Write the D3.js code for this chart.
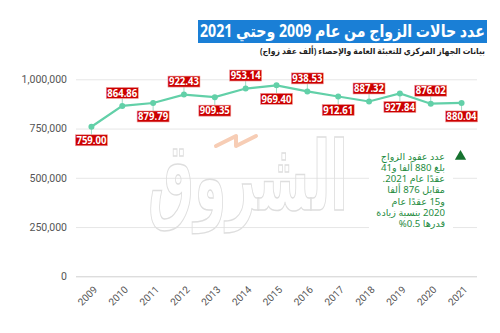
<!DOCTYPE html>
<html><head><meta charset="utf-8">
<script src="https://cdn.jsdelivr.net/npm/d3@7"></script>
<style>html,body{margin:0;padding:0;background:#fff;}svg{display:block;font-family:"Noto Sans","DejaVu Sans",sans-serif;}</style>
</head><body><svg id="c" width="500" height="333"></svg>
<script>
const years = ["2009","2010","2011","2012","2013","2014","2015","2016","2017","2018","2019","2020","2021"];
const marriages = [759000,864860,879790,922430,909350,953140,969400,938530,912610,887320,927840,876020,880040];
const labelText = ["759.00","864.86","879.79","922.43","909.35","953.14","969.40","938.53","912.61","887.32","927.84","876.02","880.04"];
const yTicks = [0,250000,500000,750000,1000000];
const title = "عدد حالات الزواج من عام 2009 وحتي 2021";
const subtitle = "بيانات الجهاز المركزي للتعبئة العامة والإحصاء (ألف عقد زواج)";
const noteLines = ["عدد عقود الزواج","بلغ 880 ألفا و41","عقدًا عام 2021.","مقابل 876 ألفا","و15 عقدًا عام","2020 بنسبة زيادة","قدرها 0.5%"];

const svg = d3.select("#c");
const x = d3.scalePoint().domain(years).range([76,477]).padding(0.5);
const y = d3.scaleLinear().domain([0,1000000]).range([276.3,79.3]);

// title (rtl: anchor start = right edge)
svg.append("rect").attr("x",198).attr("y",20).attr("width",289).attr("height",23).attr("fill","#1a7fd6");
svg.append("text").attr("x",485).attr("y",37).attr("text-anchor","start").attr("direction","rtl")
  .attr("fill","#fff").attr("font-weight","bold").attr("font-size",17)
  .attr("textLength",285).attr("lengthAdjust","spacingAndGlyphs").text(title);
svg.append("text").attr("x",485).attr("y",54).attr("text-anchor","start").attr("direction","rtl")
  .attr("fill","#222").attr("font-weight","bold").attr("font-size",8.5)
  .attr("textLength",225).attr("lengthAdjust","spacingAndGlyphs").text(subtitle);

// grid + y axis
const yAxis = d3.axisLeft(y).tickValues(yTicks).tickSize(-(477-76)).tickFormat(d3.format(","));
const ga = svg.append("g").attr("transform","translate(76,0)").call(yAxis);
ga.select(".domain").remove();
ga.selectAll(".tick line").attr("stroke",d=>d===0?"#cfcfcf":"#e6e6e6").attr("stroke-width",1);
ga.selectAll(".tick text").attr("x",-9).attr("fill","#555").attr("font-size",10.5).attr("font-family","Roboto, 'Noto Sans', sans-serif");

// watermark
const wm = svg.append("g");
wm.append("text").attr("x",248).attr("y",210).attr("text-anchor","middle").attr("direction","rtl")
  .attr("font-size",96).attr("font-weight","bold").attr("fill","none").attr("stroke","#dedede").attr("stroke-width",1.5)
  .attr("textLength",200).attr("lengthAdjust","spacingAndGlyphs").text("الشروق");
wm.append("path").attr("d","M216,146 L236,136 L236,146 L256,136").attr("fill","none").attr("stroke","#f7cdb5").attr("stroke-width",4).attr("stroke-linecap","round").attr("stroke-linejoin","round");

// x axis labels
const xa = svg.append("g").attr("transform","translate(0,276.3)").call(d3.axisBottom(x).tickSize(0).tickPadding(0));
xa.select(".domain").remove();
xa.selectAll(".tick text").attr("text-anchor","end").attr("fill","#555").attr("font-size",10)
  .attr("font-family","Roboto, 'Noto Sans', sans-serif")
  .attr("transform","translate(6,14) rotate(-45)").attr("dy","0");

// annotation
const ann = svg.append("g");
ann.append("rect").attr("x",369).attr("y",147).attr("width",84).attr("height",82).attr("fill","#fff");
ann.selectAll("text.n").data(noteLines).join("text").attr("class","n")
  .attr("x",445).attr("y",(d,i)=>159.5+i*11.3).attr("text-anchor","start").attr("direction","rtl")
  .attr("fill","#1f8c3f").attr("font-size",9.6).text(d=>d);
ann.append("path").attr("d",d3.symbol(d3.symbolTriangle,55)()).attr("transform","translate(460.5,156.5)").attr("fill","#16722f");

// line
const pts = years.map((yr,i)=>({yr,v:marriages[i],t:labelText[i],up:i%2===1}));
svg.append("path").datum(pts).attr("fill","none").attr("stroke","#62d0a8").attr("stroke-width",2.2)
  .attr("d",d3.line().x(d=>x(d.yr)).y(d=>y(d.v)));

// labels
const lg = svg.selectAll("g.lab").data(pts).join("g").attr("class","lab")
  .attr("transform",d=>`translate(${x(d.yr)},${y(d.v)})`);
lg.append("line").attr("x1",0).attr("x2",0).attr("y1",0).attr("y2",d=>d.up?-8:8).attr("stroke","#9fdcc6").attr("stroke-width",1);
lg.append("rect").attr("x",-16).attr("width",32).attr("height",11)
  .attr("y",d=>d.up?-18.5:8).attr("fill","#cc0000").attr("stroke","#f0a0a0").attr("stroke-width",0.6);
lg.append("text").attr("text-anchor","middle").attr("y",d=>d.up?-9.3:17.2)
  .attr("fill","#fff").attr("font-weight","bold").attr("font-size",10).attr("font-family","'Open Sans','Noto Sans',sans-serif")
  .attr("textLength",30).attr("lengthAdjust","spacingAndGlyphs").text(d=>d.t);

svg.selectAll("circle.pt").data(pts).join("circle").attr("class","pt")
  .attr("cx",d=>x(d.yr)).attr("cy",d=>y(d.v)).attr("r",3).attr("fill","#62d0a8");
</script></body></html>
